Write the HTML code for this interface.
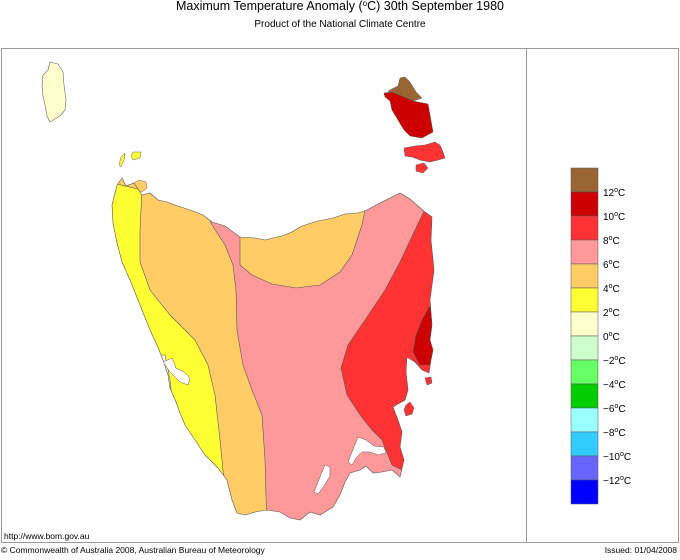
<!DOCTYPE html>
<html><head><meta charset="utf-8">
<style>
html,body{margin:0;padding:0;background:#fff;}
body{width:680px;height:555px;overflow:hidden;font-family:"Liberation Sans",sans-serif;}
</style></head>
<body>
<svg width="680" height="555" viewBox="0 0 680 555" xmlns="http://www.w3.org/2000/svg" font-family="Liberation Sans, sans-serif">
<defs>
<clipPath id="tas">
<path d="M117,185 L122,178 L126,186 L134,183 L142,195 L150,193 L158,200 L167,202 L175,205 L190,210 L203,215 L212,222 L225,226 L240,237 L255,238 L265,240 L273,238 L282,236 L292,232 L300,227 L308,224 L318,221 L333,218 L345,214 L358,213 L367,210 L380,203 L392,197 L400,193 L410,199 L418,206 L425,212 L432,217 L431,240 L434,270 L430,300 L432,325 L430,340 L433,350 L431,360 L429,373 L422,370 L415,362 L407,357 L406,372 L408,390 L405,400 L398,404 L393,407 L398,420 L402,432 L400,447 L404,460 L400,477 L392,470 L382,472 L373,473 L366,466 L360,470 L350,473 L345,482 L340,495 L333,507 L320,515 L310,512 L300,520 L290,518 L280,512 L267,510 L255,512 L245,515 L237,513 L232,500 L227,480 L218,468 L205,455 L195,440 L185,425 L180,413 L176,402 L170,388 L168,375 L163,360 L157,345 L150,330 L140,305 L130,280 L122,262 L117,243 L113,223 L112,205 Z"/>
</clipPath>
</defs>

<text x="340" y="10" font-size="12.5" text-anchor="middle" fill="#000">Maximum Temperature Anomaly (<tspan font-size="8" dy="-4">o</tspan><tspan dy="4">C)  30th September 1980</tspan></text>
<text x="340" y="27" font-size="10" text-anchor="middle" fill="#000">Product of the National Climate Centre</text>

<rect x="1.5" y="48.5" width="677" height="494" fill="none" stroke="#999" stroke-width="1"/>
<line x1="526.5" y1="48" x2="526.5" y2="543" stroke="#999"/>

<path d="M50,62 L58,64 L63,72 L64,85 L66,100 L65,110 L60,116 L50,122 L47,116 L45,105 L43,96 L42,85 L43,75 L48,70 Z" fill="#ffffcc" stroke="#666" stroke-width="0.6"/>
<path d="M125,153 L124,160 L121,167 L119,165 L121,157 Z" fill="#ffff33" stroke="#666" stroke-width="0.5"/>
<path d="M133,152 L141,152 L140,158 L133,160 L131,156 Z" fill="#ffff33" stroke="#666" stroke-width="0.5"/>
<path d="M134,183 L139,180 L146,182 L147,188 L142,192 L135,188 Z" fill="#ffcc66" stroke="#666" stroke-width="0.5"/>

<path d="M384,93 L392,92 L404,97 L413,101 L428,104 L430,115 L433,132 L422,138 L410,136 L404,130 L398,120 L392,110 L390,101 L385,97 Z" fill="#cc0000" stroke="#555" stroke-width="0.5"/>
<path d="M388,91 L398,86 L400,78 L405,77 L410,82 L416,92 L422,98 L413,101 L402,96 Z" fill="#996633" stroke="#555" stroke-width="0.5"/>
<path d="M404,148 L415,146 L425,145 L435,142 L440,145 L443,152 L445,158 L438,160 L430,162 L420,160 L412,157 L405,156 Z" fill="#ff3333" stroke="#555" stroke-width="0.5"/>
<path d="M416,165 L424,163 L428,168 L423,173 L416,171 Z" fill="#ff3333" stroke="#555" stroke-width="0.5"/>
<path d="M406,405 L410,402 L414,408 L412,414 L406,416 L404,410 Z" fill="#ff3333" stroke="#555" stroke-width="0.5"/>
<path d="M425,378 L431,377 L432,383 L427,385 Z" fill="#ff3333" stroke="#555" stroke-width="0.5"/>

<g clip-path="url(#tas)" stroke="#555" stroke-width="0.6">
  <rect x="100" y="180" width="340" height="350" fill="#ffcc66" stroke="none"/>
  <path d="M100,180 L142,190 L140,230 L140,262 L150,290 L170,315 L195,340 L208,365 L215,395 L220,440 L224,480 L227,530 L100,530 Z" fill="#ffff33"/>
  <path d="M150,355 L165,355 L170,380 L172,400 L180,420 L170,420 L150,400 Z" fill="#ffffcc"/>
  <path d="M203,205 L212,225 L225,245 L233,265 L236,290 L237,330 L243,365 L252,390 L262,415 L265,460 L267,530 L440,530 L440,180 Z" fill="#ff9999"/>
  <path d="M240,225 L240,265 L252,275 L272,284 L296,288 L320,285 L340,272 L352,255 L362,225 L367,200 L240,200 Z" fill="#ffcc66"/>
  <path d="M427,205 L415,230 L400,262 L385,290 L365,320 L348,345 L341,368 L347,395 L360,415 L372,430 L382,440 L392,465 L402,470 L440,470 L440,205 Z" fill="#ff3333"/>
  <path d="M440,300 L430,306 L422,320 L416,335 L413,352 L420,365 L440,365 Z" fill="#cc0000"/>
</g>
<path d="M117,185 L122,178 L126,186 L134,183 L142,195 L150,193 L158,200 L167,202 L175,205 L190,210 L203,215 L212,222 L225,226 L240,237 L255,238 L265,240 L273,238 L282,236 L292,232 L300,227 L308,224 L318,221 L333,218 L345,214 L358,213 L367,210 L380,203 L392,197 L400,193 L410,199 L418,206 L425,212 L432,217 L431,240 L434,270 L430,300 L432,325 L430,340 L433,350 L431,360 L429,373 L422,370 L415,362 L407,357 L406,372 L408,390 L405,400 L398,404 L393,407 L398,420 L402,432 L400,447 L404,460 L400,477 L392,470 L382,472 L373,473 L366,466 L360,470 L350,473 L345,482 L340,495 L333,507 L320,515 L310,512 L300,520 L290,518 L280,512 L267,510 L255,512 L245,515 L237,513 L232,500 L227,480 L218,468 L205,455 L195,440 L185,425 L180,413 L176,402 L170,388 L168,375 L163,360 L157,345 L150,330 L140,305 L130,280 L122,262 L117,243 L113,223 L112,205 Z" fill="none" stroke="#555" stroke-width="0.6"/>
<path d="M163,362 L172,358 L176,368 L184,372 L190,378 L188,385 L180,382 L176,378 L170,372 Z" fill="#fff" stroke="#555" stroke-width="0.5"/>
<path d="M358,437 L366,440 L374,446 L384,447 L386,453 L378,455 L370,452 L362,452 L356,458 L352,465 L348,462 L352,452 Z" fill="#fff" stroke="#555" stroke-width="0.5"/>
<path d="M325,465 L330,467 L330,476 L324,486 L318,494 L314,492 L318,482 L322,472 Z" fill="#fff" stroke="#555" stroke-width="0.5"/>

<g id="legend" font-size="10" fill="#000"></g>

<text x="4" y="539" font-size="8.5" fill="#000">http://www.bom.gov.au</text>
<text x="1" y="553" font-size="8.5" fill="#000">© Commonwealth of Australia 2008, Australian Bureau of Meteorology</text>
<text x="677" y="553" font-size="8.5" text-anchor="end" fill="#000">Issued: 01/04/2008</text>
</svg>
<script>
const legendColors = ["#996633","#cc0000","#ff3333","#ff9999","#ffcc66","#ffff33","#ffffcc","#ccffcc","#66ff66","#00cc00","#99ffff","#33ccff","#6666ff","#0000ff"];
const legendLabels = ["12","10","8","6","4","2","0","-2","-4","-6","-8","-10","-12"];
const NS = "http://www.w3.org/2000/svg";
const g = document.getElementById('legend');
const lx = 571, ly = 168, lw = 27, lh = 24;
legendColors.forEach(function(c, i){
  const r = document.createElementNS(NS, 'rect');
  r.setAttribute('x', lx); r.setAttribute('y', ly + i*lh);
  r.setAttribute('width', lw); r.setAttribute('height', lh);
  r.setAttribute('fill', c); r.setAttribute('stroke', '#555'); r.setAttribute('stroke-width', '0.5');
  
  
  g.appendChild(r);
});
legendLabels.forEach(function(l, i){
  const t = document.createElementNS(NS, 'text');
  t.setAttribute('x', lx + lw + 5); t.setAttribute('y', ly + (i+1)*lh + 4);
  t.setAttribute('font-size', '10');
  t.innerHTML = l.replace('-', '\u2212') + '<tspan font-size="7" dy="-4">o</tspan><tspan dy="4">C</tspan>';
  
  
  g.appendChild(t);
});
</script>
</body></html>
